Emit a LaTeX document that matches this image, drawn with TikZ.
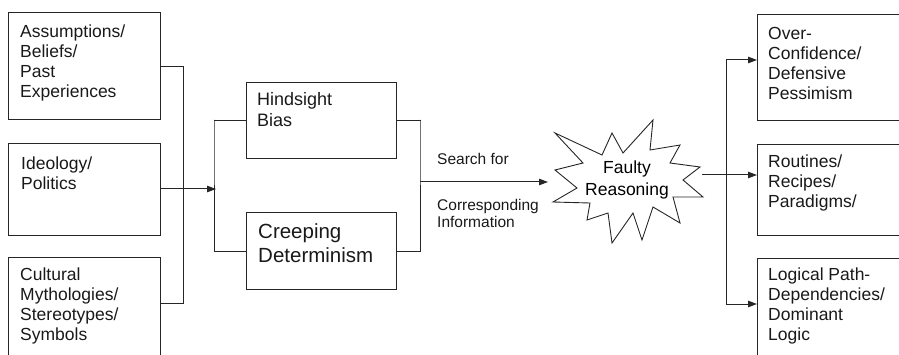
\documentclass[tikz,border=0pt]{standalone}
\usepackage{fontspec}
\setmainfont{Liberation Sans}
\usetikzlibrary{arrows.meta,calc}

\tikzset{
  box/.style={draw=black!85, line width=1.1pt, rectangle, inner sep=0pt, anchor=north west},
  txt/.style={anchor=north west, inner sep=0pt, align=left, text=black!90},
  conn/.style={draw=black!85, line width=1pt},
  arr/.style={conn, -{Triangle[length=9pt,width=6.5pt]}},
  lfont/.style={font=\fontsize{17.5}{20}\selectfont},
}

\begin{document}
\begin{tikzpicture}[x=1pt, y=-1pt]
\useasboundingbox (0,0) rectangle (899,355);
\clip (0,0) rectangle (899,355);

% input boxes
\node[box, minimum width=152pt, minimum height=107pt] (a1) at (8,12) {};
\node[box, minimum width=152pt, minimum height=92pt]  (a2) at (8,143) {};
\node[box, minimum width=152pt, minimum height=115pt] (a3) at (8,257) {};
\node[txt, lfont] (ta1) at (20,25) {Assumptions/\\Beliefs/\\Past\\Experiences};
\node[txt, lfont] (ta2) at (21,157) {Ideology/\\Politics};
\node[txt, lfont] (ta3) at (20,268) {Cultural\\Mythologies/\\Stereotypes/\\Symbols};

% bias boxes
\node[box, minimum width=150pt, minimum height=76pt] (h1) at (246,82) {};
\node[box, minimum width=150pt, minimum height=77pt] (c1) at (246,212) {};
\node[txt, font=\fontsize{18}{21}\selectfont] (th) at (257,92) {Hindsight\\Bias};
\node[txt, font=\fontsize{20.5}{24.5}\selectfont] (tc) at (258,223) {Creeping\\Determinism};

% outcome boxes
\node[box, minimum width=160pt, minimum height=106pt] (r1) at (757,14) {};
\node[box, minimum width=160pt, minimum height=91pt]  (r2) at (757,144) {};
\node[box, minimum width=160pt, minimum height=115pt] (r3) at (757,258) {};
\node[txt, lfont] (tr1) at (768,27) {Over-\\Confidence/\\Defensive\\Pessimism};
\node[txt, lfont] (tr2) at (768,155) {Routines/\\Recipes/\\Paradigms/};
\node[txt, lfont] (tr3) at (768,268) {Logical Path-\\Dependencies/\\Dominant\\Logic};

% the burst
\draw[conn, line width=0.9pt, line join=miter] (555,133) -- (602,155) -- (612,133) -- (623,153) -- (653,120)
  -- (650,150) -- (680,145) -- (670,163) -- (700,167) -- (683,180) -- (703,197)
  -- (673,197) -- (680,223) -- (653,207) -- (642,240) -- (633,213) -- (612,243)
  -- (608,213) -- (587,220) -- (590,203) -- (553,202) -- (577,188) -- (555,170)
  -- (583,163) -- cycle;
\node[align=center, inner sep=0pt, font=\fontsize{17.5}{22}\selectfont] (fr) at (627,180) {Faulty\\Reasoning};

% arrow label
\node[txt, font=\fontsize{15.5}{18}\selectfont] (ts) at (437,153) {Search for};
\node[txt, font=\fontsize{15.5}{17.5}\selectfont] (tci) at (437,199) {Corresponding\\Information};

% junction points
\coordinate (jL) at (183,67);
\coordinate (a3p) at (160,303);
\coordinate (a2p) at (160,189);
\coordinate (jM) at (214,120);
\coordinate (jMa) at (216,189);
\coordinate (jR) at (420,120);
\coordinate (jRo) at (420,182);
\coordinate (sIn) at (548,182);
\coordinate (sOut) at (702,175);
\coordinate (r2p) at (757,175);
\coordinate (jO) at (726,60);
\coordinate (r1p) at (757,60);
\coordinate (r3p) at (757,304);

% connectors
\draw[conn] (a1.east |- jL) -- (jL) |- (a3p);
\draw[arr] (a2p) -- (jMa);
\draw[conn] (h1.west) -| (jM) |- (c1.west);
\draw[conn] (h1.east) -| (jR) |- (c1.east);
\draw[arr] (jRo) -- (sIn);
\draw[arr] (sOut) -- (r2p);
\draw[arr] (jO) -- (r1p);
\draw[arr] (jO) |- (r3p);
\end{tikzpicture}
\end{document}
